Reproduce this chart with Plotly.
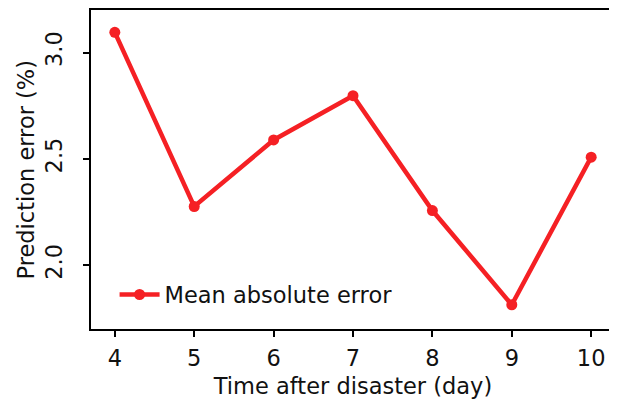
import plotly.graph_objects as go

days = [4, 5, 6, 7, 8, 9, 10]
mae = [3.095, 2.276, 2.589, 2.797, 2.257, 1.814, 2.508]
series_name = "Mean absolute error"
x_title = "Time after disaster (day)"
y_title = "Prediction error (%)"

red = "rgb(245,32,36)"
fs = 22.5
font = dict(family="DejaVu Sans", size=fs, color="#111111")

# page body has an 8px default margin, so the figure is sized/margined to compensate
fig = go.Figure()
fig.add_trace(go.Scatter(
    x=days, y=mae, mode="lines+markers", name=series_name,
    line=dict(color=red, width=4.5),
    marker=dict(color=red, size=11),
))

fig.update_layout(
    width=609, height=397,
    margin=dict(l=83, r=2, t=2, b=76, autoexpand=False),
    paper_bgcolor="white", plot_bgcolor="white",
    font=font,
    showlegend=True,
    legend=dict(x=0.045, y=0.107, xanchor="left", yanchor="middle",
                bgcolor="rgba(0,0,0,0)", font=dict(size=fs), itemwidth=40),
)
fig.update_xaxes(
    range=[3.7, 10.3], tickvals=days, ticktext=[str(d) for d in days],
    showgrid=False, zeroline=False, automargin=False,
    showline=True, mirror=True, linecolor="black", linewidth=1.5,
    ticks="outside", ticklen=6, tickwidth=1.5, tickcolor="black",
    tickfont=dict(size=fs), ticklabelstandoff=2,
    title=dict(text=x_title, standoff=8, font=dict(size=fs)),
)
fig.update_yaxes(
    range=[1.70, 3.20], tickvals=[2.0, 2.5, 3.0], ticktext=["2.0", "2.5", "3.0"],
    tickangle=-90, automargin=False,
    showgrid=False, zeroline=False,
    showline=True, mirror=True, linecolor="black", linewidth=1.5,
    ticks="outside", ticklen=6, tickwidth=1.5, tickcolor="black",
    tickfont=dict(size=fs), ticklabelstandoff=12,
)
fig.add_annotation(
    text=y_title, xref="paper", yref="paper", x=0, y=0.5,
    xanchor="center", yanchor="middle", xshift=-66, textangle=-90,
    showarrow=False, font=dict(size=fs, color="#111111"),
)

fig.write_html("out.html")
